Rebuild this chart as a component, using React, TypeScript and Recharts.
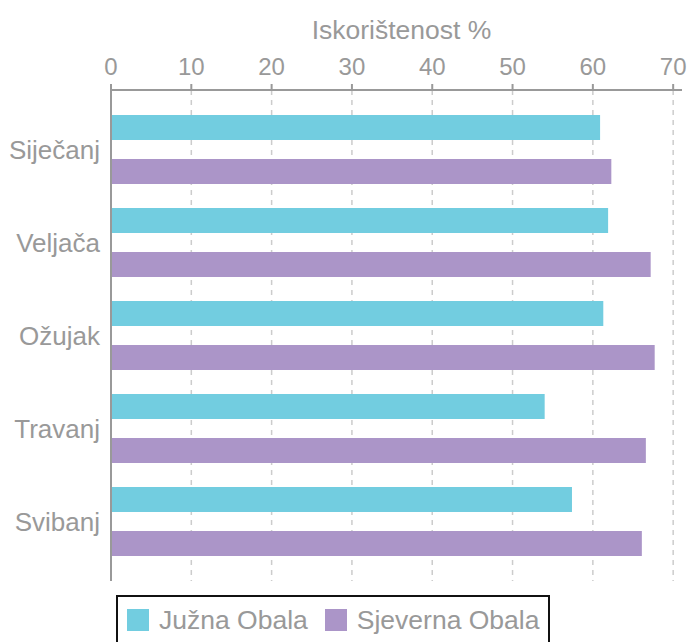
import { BarChart, Bar, XAxis, YAxis, CartesianGrid, Legend } from "recharts";

const months = ["Siječanj", "Veljača", "Ožujak", "Travanj", "Svibanj"];
const juznaObala = [60.9, 61.9, 61.3, 54.0, 57.4];
const sjevernaObala = [62.3, 67.2, 67.7, 66.6, 66.1];
const xTicks = [0, 10, 20, 30, 40, 50, 60, 70];

const data = months.map((month, i) => ({
    month,
    juzna: juznaObala[i],
    sjeverna: sjevernaObala[i],
}));

const FONT = "Arial, 'Liberation Sans', sans-serif";
const GREY = "#999999";

const CustomLegend = (props: any) => {
    const { payload } = props;
    return (
        <div
            style={{
                display: "flex",
                alignItems: "center",
                border: "2px solid #111",
                padding: "12px 9px 14px 9px",
                fontFamily: FONT,
                fontSize: 26.5,
                color: GREY,
                background: "#fff",
            }}
        >
            {(payload || []).map((entry: any, i: number) => (
                <div key={i} style={{ display: "flex", alignItems: "center", marginRight: i === 0 ? 17 : 0 }}>
                    <span style={{ width: 22, height: 22, background: entry.color, marginRight: 10, display: "inline-block" }} />
                    <span style={{ lineHeight: "22px" }}>{entry.value}</span>
                </div>
            ))}
        </div>
    );
};

export default function App() {
    return (
        <div style={{ fontFamily: FONT }}>
            <style>{`body { margin: 0; }`}</style>
            <BarChart
                layout="vertical"
                width={690}
                height={642}
                data={data}
                margin={{ top: 0, right: 8, bottom: 61, left: 0 }}
                barSize={25}
                barGap={19}
            >
                <CartesianGrid
                    horizontal={false}
                    syncWithTicks
                    stroke="#cccccc"
                    strokeDasharray="5 5"
                    strokeWidth={1.5}
                />
                <XAxis
                    type="number"
                    orientation="top"
                    domain={[0, 71.1]}
                    ticks={xTicks}
                    height={90}
                    axisLine={{ stroke: GREY, strokeWidth: 2 }}
                    tickLine={{ stroke: GREY, strokeWidth: 2 }}
                    tickSize={6}
                    tickMargin={9}
                    tick={{ fill: GREY, fontSize: 24, fontFamily: FONT }}
                    label={{ value: "Iskorištenost %", position: "insideTop", offset: 20, dx: 5, fill: GREY, fontSize: 26.5, fontFamily: FONT }}
                />
                <YAxis
                    type="category"
                    dataKey="month"
                    width={111}
                    padding={{ top: 13, bottom: 13 }}
                    tickLine={false}
                    axisLine={{ stroke: GREY, strokeWidth: 2 }}
                    tickMargin={5}
                    tick={{ fill: GREY, fontSize: 26, fontFamily: FONT }}
                />
                <Legend
                    layout="horizontal"
                    verticalAlign="middle"
                    align="center"
                    content={CustomLegend}
                    wrapperStyle={{ top: 595, left: 116, width: "auto", height: "auto" }}
                />
                <Bar dataKey="juzna" name="Južna Obala" fill="#72CDE0" isAnimationActive={false} />
                <Bar dataKey="sjeverna" name="Sjeverna Obala" fill="#AB95C8" isAnimationActive={false} />
            </BarChart>
        </div>
    );
}
